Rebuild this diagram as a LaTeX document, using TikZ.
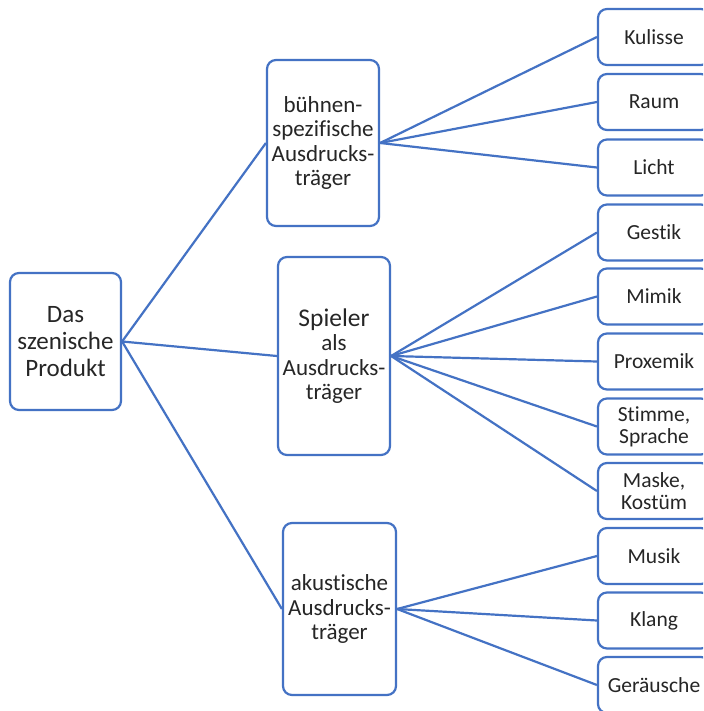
\documentclass[tikz,border=0pt]{standalone}
\usepackage{fontspec}
\setmainfont[RawFeature=-liga]{Carlito}
\definecolor{boxblue}{HTML}{4472C4}
\definecolor{txt}{HTML}{262626}
\begin{document}
\begin{tikzpicture}[x=1pt,y=-1pt,
  box/.style={draw=boxblue,line width=2.2pt,rounded corners=9pt,fill=white,
    inner sep=0pt,align=center,text=txt},
  leaf/.style={box,minimum width=112pt,minimum height=56pt,font=\fontsize{21.5}{22}\selectfont},
  mid/.style={box,minimum width=112pt,font=\fontsize{23}{24.5}\selectfont},
  conn/.style={draw=boxblue,line width=2.2pt}]
\useasboundingbox (0,0) rectangle (703,711);
\clip (0,0) rectangle (703,711);
\fill[white] (0,0) rectangle (703,711);

\node[box,minimum width=111pt,minimum height=137pt,font=\fontsize{25}{27}\selectfont] (root) at (65.5,341.5) {Das\\szenische\\Produkt};

\node[mid,minimum height=166pt] (b1) at (323,143) {bühnen-\\spezifische\\Ausdrucks-\\träger};
\node[mid,minimum height=198pt] (b2) at (334,356) {{\fontsize{25.5}{26}\selectfont Spieler}\\als\\Ausdrucks-\\träger};
\node[mid,minimum width=113pt,minimum height=172pt] (b3) at (339.5,609) {akustische\\Ausdrucks-\\träger};

\node[leaf] (l1) at (654,37) {Kulisse};
\node[leaf] (l2) at (654,102) {Raum};
\node[leaf] (l3) at (654,167.5) {Licht};
\node[leaf] (l4) at (654,232.5) {Gestik};
\node[leaf] (l5) at (654,296.5) {Mimik};
\node[leaf] (l6) at (654,361.5) {Proxemik};
\node[leaf] (l7) at (654,426.5) {Stimme,\\Sprache};
\node[leaf] (l8) at (654,491) {Maske,\\Kostüm};
\node[leaf] (l9) at (654,556) {Musik};
\node[leaf] (l10) at (654,620.5) {Klang};
\node[leaf] (l11) at (654,685) {Geräusche};

\foreach \m in {b1,b2,b3} \draw[conn] (root.east) -- (\m.west);
\foreach \l in {l1,l2,l3} \draw[conn] (b1.east) -- (\l.west);
\foreach \l in {l4,l5,l6,l7,l8} \draw[conn] (b2.east) -- (\l.west);
\foreach \l in {l9,l10,l11} \draw[conn] (b3.east) -- (\l.west);
\end{tikzpicture}
\end{document}
